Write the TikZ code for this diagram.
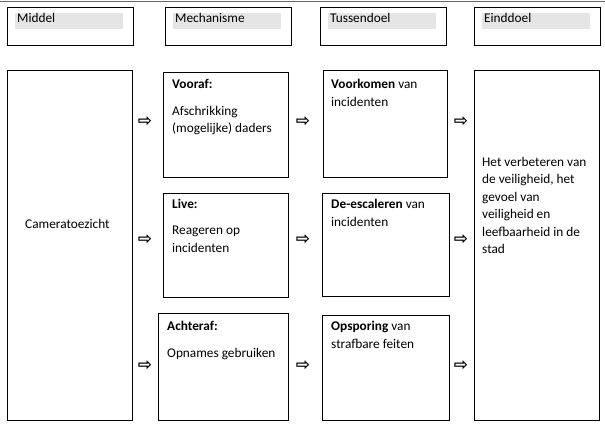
\documentclass[tikz,border=0pt]{standalone}
\usepackage{fontspec}
\setmainfont{Carlito}
\newfontfamily\djv{DejaVu Sans}
\begin{document}
\begin{tikzpicture}[x=1pt,y=-1pt,
 box/.style={draw=black,line width=0.8pt,anchor=north west,inner sep=0pt},
 txt/.style={anchor=north west,align=left,inner sep=0pt,font=\fontsize{13.3}{17.5}\selectfont},
 hl/.style={fill=black!10,anchor=north west,inner sep=0pt},
 arr/.style={font=\djv\bfseries\fontsize{17}{17}\selectfont,inner sep=0pt}]
\useasboundingbox (0,0) rectangle (605,426);
\draw[black!60,line width=0.8pt] (0,1) -- (605,1);
% headers
\foreach \n/\x/\t in {h1/7/Middel,h2/165/Mechanisme,h3/320/Tussendoel,h4/474/Einddoel}{
  \node[box,minimum width=126pt,minimum height=38pt] (\n) at (\x,7) {};
  \node[hl,minimum width=108pt,minimum height=16pt] (\n b) at (\x+8,13) {};
  \node[txt] (\n t) at (\x+10,13) {\t};
}
% boxes
\node[box,minimum width=125pt,minimum height=350pt] (cam) at (7,70) {};
\node[txt,anchor=west] (camt) at (25,224) {Cameratoezicht};
\node[box,minimum width=125pt,minimum height=105pt] (m1) at (163,72) {};
\node[box,minimum width=125pt,minimum height=104pt] (m2) at (163,193) {};
\node[box,minimum width=130pt,minimum height=107pt] (m3) at (158,313) {};
\node[box,minimum width=124pt,minimum height=107pt] (t1) at (323,70) {};
\node[box,minimum width=127pt,minimum height=103pt] (t2) at (322,193) {};
\node[box,minimum width=127pt,minimum height=105pt] (t3) at (322,315) {};
\node[box,minimum width=125pt,minimum height=350pt] (e) at (474,70) {};
% texts
\node[txt] (m1t) at (172,79) {\textbf{Vooraf:}};
\node[txt] (m1u) at (172,106) {Afschrikking\\(mogelijke) daders};
\node[txt] (m2t) at (172,199) {\textbf{Live:}};
\node[txt] (m2u) at (172,226) {Reageren op\\incidenten};
\node[txt] (m3t) at (167,321) {\textbf{Achteraf:}};
\node[txt] (m3u) at (167,348) {Opnames gebruiken};
\node[txt] (t1t) at (331,79) {\textbf{Voorkomen} van\\incidenten};
\node[txt] (t2t) at (331,199) {\textbf{De-escaleren} van\\incidenten};
\node[txt] (t3t) at (331,321) {\textbf{Opsporing} van\\strafbare feiten};
\node[txt] (et) at (482,157) {Het verbeteren van\\de veiligheid, het\\gevoel van\\veiligheid en\\leefbaarheid in de\\stad};
% arrows
\foreach \x/\y [count=\i] in {145/122,145/240,145/366,303/122,303/240,303/366,461/122,461/240,461/366}
  \node[arr] (a\i) at (\x,\y) {⇨};
\end{tikzpicture}
\end{document}
